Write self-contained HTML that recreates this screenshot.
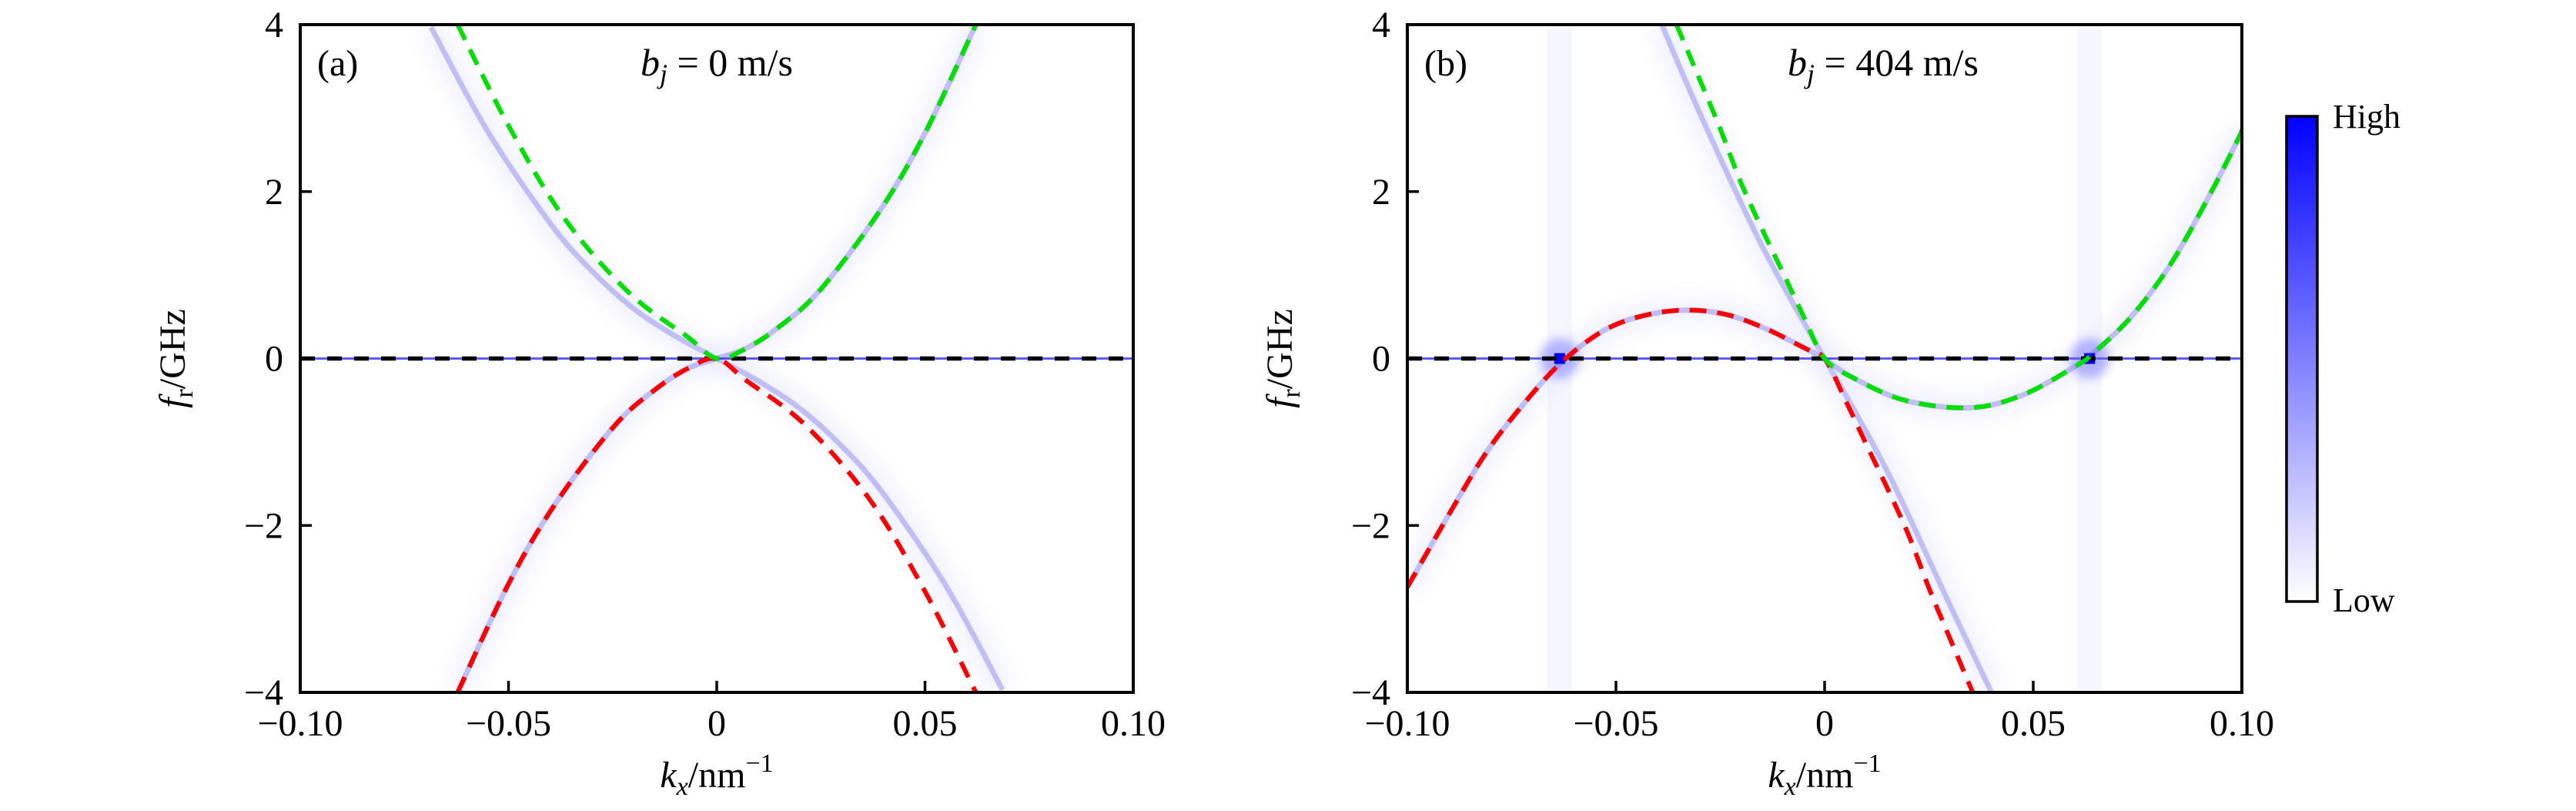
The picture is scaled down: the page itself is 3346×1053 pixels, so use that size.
<!DOCTYPE html>
<html><head><meta charset="utf-8"><title>Spin-wave dispersion</title>
<style>
html,body{margin:0;padding:0;background:#fff;}
svg{display:block;}
text{font-family:"Liberation Serif","DejaVu Serif",serif;fill:#000;}
</style></head>
<body>
<svg id="fig" xmlns="http://www.w3.org/2000/svg" width="3346" height="1053" viewBox="0 0 3346 1053">
<defs>
<linearGradient id="cbg" x1="0" y1="1" x2="0" y2="0">
<stop offset="0" stop-color="#ffffff"/><stop offset="1" stop-color="#0000ff"/>
</linearGradient>
<filter id="blur6" x="-50%" y="-50%" width="200%" height="200%"><feGaussianBlur stdDeviation="6"/></filter>
<filter id="blur14" x="-50%" y="-50%" width="200%" height="200%"><feGaussianBlur stdDeviation="12"/></filter>
</defs>
<g id="panelA"></g>
<g id="panelB"></g>
<g>
<rect x="2970" y="151" width="40" height="630" fill="url(#cbg)" stroke="#000" stroke-width="3.5"/>
<text x="3030" y="166" font-size="44">High</text>
<text x="3030" y="794" font-size="44">Low</text>
</g>
</svg>
<script>
// ---- shared axis data ----
const xTicks = [-0.10, -0.05, 0, 0.05, 0.10];
const xTickLabels = ["\u22120.10", "\u22120.05", "0", "0.05", "0.10"];
const yTicks = [4, 2, 0, -2, -4];
const yTickLabels = ["4", "2", "0", "\u22122", "\u22124"];

// ---- panel (a) data, b_j = 0 ----
const aGreenK = [-0.0622, -0.05, -0.0366, -0.0211, -0.007, 0, 0.007, 0.015, 0.0248, 0.0389, 0.05, 0.0622];
const aGreenF = [4, 2.79, 1.68, 0.79, 0.26, 0, 0.12, 0.38, 0.82, 1.75, 2.7, 4];
const aRedK = [-0.0622, -0.05, -0.0389, -0.0248, -0.015, -0.007, 0, 0.007, 0.0211, 0.0366, 0.05, 0.0622];
const aRedF = [-4, -2.7, -1.75, -0.82, -0.38, -0.12, 0, -0.26, -0.79, -1.68, -2.79, -4];
const aBandUpK = [-0.0686, -0.0551, -0.04, -0.03, -0.02, -0.01, 0];
const aBandUpF = [3.97, 2.73, 1.62, 1.05, 0.6, 0.27, 0];
const aBandDnK = [0, 0.01, 0.02, 0.03, 0.04, 0.0551, 0.0686];
const aBandDnF = [0, -0.27, -0.6, -1.05, -1.62, -2.73, -3.97];

// ---- panel (b) data, b_j = 404 m/s ----
const bRedK = [-0.1, -0.0904, -0.081, -0.0714, -0.0625, -0.0524, -0.0428, -0.0332, -0.0238, -0.0142, -0.0046, 0, 0.005, 0.01, 0.0147, 0.02, 0.025, 0.03, 0.0355];
const bRedF = [-2.74, -1.9, -1.12, -0.5, -0.02, 0.35, 0.52, 0.58, 0.53, 0.36, 0.12, 0, -0.5, -1.03, -1.52, -2.1, -2.75, -3.35, -4.0];
const bGreenK = [-0.0355, -0.03, -0.025, -0.02, -0.0147, -0.01, -0.005, 0, 0.0064, 0.0192, 0.035, 0.0478, 0.0605, 0.0643, 0.0733, 0.0828, 0.0924, 0.0992, 0.1];
const bGreenF = [4.0, 3.35, 2.75, 2.1, 1.52, 1.03, 0.5, 0, -0.22, -0.5, -0.59, -0.43, -0.08, 0.06, 0.49, 1.12, 1.97, 2.64, 2.74];
const bBandUpK = [-0.039, -0.03, -0.0168, -0.008, 0];
const bBandUpF = [4, 2.95, 1.53, 0.7, 0];
const bBandDnK = [0, 0.008, 0.0168, 0.03, 0.04];
const bBandDnF = [0, -0.7, -1.53, -2.95, -4];
const bBlobK = [-0.0635, 0.0635];

const NS = "http://www.w3.org/2000/svg";
function mk(tag, attrs, parent) {
  const e = document.createElementNS(NS, tag);
  for (const k in attrs) e.setAttribute(k, attrs[k]);
  parent.appendChild(e);
  return e;
}
function makeAxes(x0, x1, y0, y1) {
  return {
    sx: k => x0 + (k + 0.1) / 0.2 * (x1 - x0),
    sy: f => y0 + (4 - f) / 8 * (y1 - y0),
    x0, x1, y0, y1
  };
}
function smoothPath(ks, fs, ax) {
  const p = ks.map((k, i) => [ax.sx(k), ax.sy(fs[i])]);
  let d = "M" + p[0][0].toFixed(1) + "," + p[0][1].toFixed(1);
  for (let i = 0; i < p.length - 1; i++) {
    const p0 = p[i - 1] || p[i], p1 = p[i], p2 = p[i + 1], p3 = p[i + 2] || p2;
    const c1 = [p1[0] + (p2[0] - p0[0]) / 6, p1[1] + (p2[1] - p0[1]) / 6];
    const c2 = [p2[0] - (p3[0] - p1[0]) / 6, p2[1] - (p3[1] - p1[1]) / 6];
    d += " C" + c1[0].toFixed(1) + "," + c1[1].toFixed(1) + " " + c2[0].toFixed(1) + "," + c2[1].toFixed(1) + " " + p2[0].toFixed(1) + "," + p2[1].toFixed(1);
  }
  return d;
}

function drawPanel(g, ax, cfg) {
  const clipId = "clip" + cfg.id;
  const defs = document.querySelector("defs");
  const cp = mk("clipPath", {id: clipId}, defs);
  mk("rect", {x: ax.x0, y: ax.y0, width: ax.x1 - ax.x0, height: ax.y1 - ax.y0}, cp);
  const plot = mk("g", {"clip-path": "url(#" + clipId + ")"}, g);
  
  

  cfg.blobs.forEach(k => {
    const glowV = mk("rect", {x: ax.sx(k) - 16, y: ax.y0, width: 32, height: ax.y1 - ax.y0, fill: "#ececff", opacity: 0.45}, plot);
    
    
  });
  cfg.bands.forEach(b => {
    const d = smoothPath(b[0], b[1], ax);
    const halo = mk("path", {d: d, fill: "none", stroke: "#d4d4ff", "stroke-width": 34, opacity: 0.3, filter: "url(#blur14)"}, plot);
    
    
    const core = mk("path", {d: d, fill: "none", stroke: "#8a8aec", "stroke-width": 7, opacity: 0.5}, plot);
    
    
  });
  const hz = mk("line", {x1: ax.x0, x2: ax.x1, y1: ax.sy(0), y2: ax.sy(0), stroke: "#3333ff", "stroke-width": 3, opacity: 0.8}, plot);
  
  
  cfg.blobs.forEach(k => {
    const glow = mk("circle", {cx: ax.sx(k), cy: ax.sy(0), r: 26, fill: "#6a6aff", opacity: 0.45, filter: "url(#blur6)"}, plot);
    
    
    const blob = mk("rect", {x: ax.sx(k) - 7, y: ax.sy(0) - 7, width: 14, height: 14, fill: "#0000ee"}, plot);
    
    
  });
  const z = mk("line", {x1: ax.x0, x2: ax.x1, y1: ax.sy(0), y2: ax.sy(0), stroke: "#000", "stroke-width": 5.5, "stroke-dasharray": "19 16"}, plot);
  
  
  const red = mk("path", {d: smoothPath(cfg.redK, cfg.redF, ax), fill: "none", stroke: "#ff0000", "stroke-width": 6, "stroke-dasharray": "22 14"}, plot);
  
  
  const green = mk("path", {d: smoothPath(cfg.greenK, cfg.greenF, ax), fill: "none", stroke: "#00e000", "stroke-width": 6, "stroke-dasharray": "22 14"}, plot);
  
  

  const fr = mk("rect", {x: ax.x0, y: ax.y0, width: ax.x1 - ax.x0, height: ax.y1 - ax.y0, fill: "none", stroke: "#000", "stroke-width": 4}, g);
  
  
  xTicks.forEach((k, i) => {
    const t = mk("line", {x1: ax.sx(k), x2: ax.sx(k), y1: ax.y1, y2: ax.y1 - 15, stroke: "#000", "stroke-width": 3.5}, g);
    
    
    const lb = mk("text", {x: ax.sx(k), y: ax.y1 + 56, "font-size": 48, "text-anchor": "middle"}, g);
    lb.textContent = xTickLabels[i];
    
    
  });
  yTicks.forEach((f, i) => {
    const t = mk("line", {x1: ax.x0, x2: ax.x0 + 15, y1: ax.sy(f), y2: ax.sy(f), stroke: "#000", "stroke-width": 3.5}, g);
    
    
    const lb = mk("text", {x: ax.x0 - 22, y: ax.sy(f) + 16, "font-size": 48, "text-anchor": "end"}, g);
    lb.textContent = yTickLabels[i];
    
    
  });
  const xt = mk("text", {x: (ax.x0 + ax.x1) / 2, y: 1022, "font-size": 48, "text-anchor": "middle"}, g);
  xt.innerHTML = '<tspan font-style="italic">k</tspan><tspan font-style="italic" font-size="34" dy="10">x</tspan><tspan dy="-10">/nm</tspan><tspan font-size="34" dy="-20">\u22121</tspan>';
  
  
  const yx = ax.x0 - 150, yy = (ax.y0 + ax.y1) / 2;
  const yt = mk("text", {x: yx, y: yy, "font-size": 48, "text-anchor": "middle", transform: "rotate(-90 " + yx + " " + yy + ")"}, g);
  yt.innerHTML = '<tspan font-style="italic">f</tspan><tspan font-size="34" dy="10">r</tspan><tspan dy="-10">/GHz</tspan>';
  
  
  const pl = mk("text", {x: ax.x0 + 22, y: ax.y0 + 66, "font-size": 48}, g);
  pl.textContent = cfg.label;
  
  
  const ti = mk("text", {x: cfg.titleX, y: ax.y0 + 66, "font-size": 50, "text-anchor": "middle"}, g);
  ti.innerHTML = '<tspan font-style="italic">b</tspan><tspan font-style="italic" font-size="36" dy="10">j</tspan><tspan dy="-10"> = ' + cfg.title + '</tspan>';
  
  
}

const axA = makeAxes(390, 1472, 32, 899);
drawPanel(document.getElementById("panelA"), axA, {
  id: "A", label: "(a)", title: "0 m/s", titleX: 931,
  redK: aRedK, redF: aRedF, greenK: aGreenK, greenF: aGreenF,
  bands: [[aBandUpK, aBandUpF], [aBandDnK, aBandDnF], [aGreenK.slice(5), aGreenF.slice(5)], [aRedK.slice(0, 7), aRedF.slice(0, 7)]],
  blobs: []
});
const axB = makeAxes(1828, 2912, 32, 899);
drawPanel(document.getElementById("panelB"), axB, {
  id: "B", label: "(b)", title: "404 m/s", titleX: 2446,
  redK: bRedK, redF: bRedF, greenK: bGreenK, greenF: bGreenF,
  bands: [[bBandUpK, bBandUpF], [bBandDnK, bBandDnF], [bGreenK.slice(7), bGreenF.slice(7)], [bRedK.slice(0, 12), bRedF.slice(0, 12)]],
  blobs: bBlobK
});
</script>
</body></html>
